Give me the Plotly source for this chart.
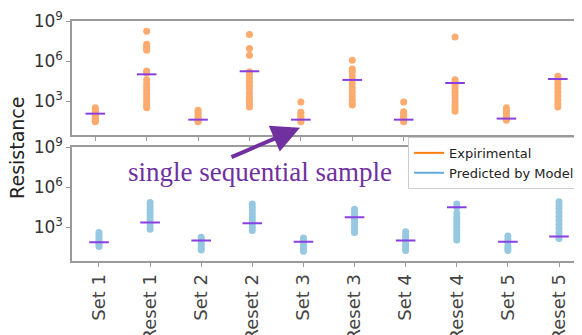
import plotly.graph_objects as go

categories = ["Set 1", "Reset 1", "Set 2", "Reset 2", "Set 3",
              "Reset 3", "Set 4", "Reset 4", "Set 5", "Reset 5"]

# Experimental resistance readings (log10 of ohms), one list per category
exp_log10 = [
    [2.5, 2.35, 2.2, 2.1, 2.0, 1.9, 1.8, 1.7, 1.6, 1.5, 1.45],
    [8.23, 7.25, 7.1, 6.95, 6.8, 5.25, 5.1, 4.6, 4.3, 4.05, 3.8, 3.55, 3.3, 3.05, 2.8, 2.6, 2.5],
    [2.3, 2.15, 2.0, 1.85, 1.7, 1.6, 1.5, 1.45],
    [7.98, 6.93, 6.43, 5.2, 5.0, 4.7, 4.4, 4.15, 3.9, 3.6, 3.3, 3.05, 2.8, 2.55],
    [2.93, 2.15, 2.0, 1.85, 1.7, 1.55, 1.45],
    [6.05, 5.4, 5.2, 4.9, 4.6, 4.3, 4.0, 3.7, 3.4, 3.1, 2.85, 2.7],
    [2.93, 2.2, 2.05, 1.9, 1.75, 1.6, 1.45],
    [7.8, 4.6, 4.4, 4.2, 3.95, 3.7, 3.45, 3.2, 2.95, 2.7, 2.45, 2.23],
    [2.5, 2.3, 2.1, 1.95, 1.8, 1.65, 1.55],
    [4.85, 4.6, 4.3, 4.0, 3.7, 3.4, 3.1, 2.8, 2.55],
]
exp_sample_log10 = [2.05, 5.0, 1.6, 5.23, 1.6, 4.58, 1.6, 4.35, 1.68, 4.65]

# Model-predicted resistance (log10 of ohms)
model_log10 = [
    [2.6, 2.4, 2.2, 2.0, 1.85, 1.7, 1.55],
    [4.85, 4.6, 4.35, 4.1, 3.85, 3.6, 3.35, 3.1, 2.85],
    [2.25, 2.05, 1.85, 1.65, 1.45, 1.3],
    [4.75, 4.5, 4.25, 4.0, 3.75, 3.5, 3.25, 3.0, 2.75],
    [2.2, 2.0, 1.8, 1.6, 1.4, 1.2],
    [4.35, 4.1, 3.85, 3.6, 3.35, 3.1, 2.85, 2.6],
    [2.67, 2.4, 2.15, 1.9, 1.65, 1.45, 1.25],
    [4.75, 4.5, 4.05, 3.75, 3.5, 3.25, 3.0, 2.75, 2.5, 2.25, 2.05],
    [2.35, 2.1, 1.85, 1.6, 1.4, 1.25],
    [4.92, 4.65, 4.4, 4.1, 3.8, 3.5, 3.2, 2.9, 2.6, 2.35, 2.15],
]
model_sample_log10 = [1.87, 3.35, 2.0, 3.3, 1.92, 3.75, 2.0, 4.5, 1.92, 2.3]

ytick_vals = [1e3, 1e6, 1e9]
ytick_text = ["10<sup>3</sup>", "10<sup>6</sup>", "10<sup>9</sup>"]

ORANGE_DOT = "#FDAB6E"
BLUE_DOT = "#96C8E2"
PURPLE = "#8A3FE0"
FONT = "DejaVu Sans"


def flatten(groups):
    xs, ys = [], []
    for cat, vals in zip(categories, groups):
        for v in vals:
            xs.append(cat)
            ys.append(10 ** v)
    return xs, ys


fig = go.Figure()

ex, ey = flatten(exp_log10)
mx, my = flatten(model_log10)

fig.add_trace(go.Scatter(x=ex, y=ey, mode="markers", xaxis="x", yaxis="y",
                         marker=dict(size=7, color=ORANGE_DOT), showlegend=False))
fig.add_trace(go.Scatter(x=categories, y=[10 ** v for v in exp_sample_log10], mode="markers",
                         xaxis="x", yaxis="y", showlegend=False,
                         marker=dict(symbol="line-ew", size=14, color=PURPLE,
                                     line=dict(width=2, color=PURPLE))))
fig.add_trace(go.Scatter(x=mx, y=my, mode="markers", xaxis="x2", yaxis="y2",
                         marker=dict(size=7, color=BLUE_DOT), showlegend=False))
fig.add_trace(go.Scatter(x=categories, y=[10 ** v for v in model_sample_log10], mode="markers",
                         xaxis="x2", yaxis="y2", showlegend=False,
                         marker=dict(symbol="line-ew", size=14, color=PURPLE,
                                     line=dict(width=2, color=PURPLE))))

# legend entries
fig.add_trace(go.Scatter(x=[None], y=[None], mode="lines", name="Expirimental",
                         line=dict(color="#FF7F0E", width=2), xaxis="x", yaxis="y"))
fig.add_trace(go.Scatter(x=[None], y=[None], mode="lines", name="Predicted by Model",
                         line=dict(color="#62AADB", width=2), xaxis="x", yaxis="y"))

axis_line = dict(showline=True, linecolor="#9a9a9a", linewidth=1.5, showgrid=False,
                 zeroline=False, ticks="outside", ticklen=4, tickcolor="#9a9a9a",
                 automargin=False)

# page body adds an 8px offset, so margins are set to compensate
fig.update_layout(
    width=582, height=335,
    margin=dict(l=64, r=8, t=13, b=82),
    paper_bgcolor="white", plot_bgcolor="white",
    font=dict(family=FONT, color="#333333"),
    xaxis=dict(domain=[0, 1], anchor="y", type="category", categoryorder="array",
               categoryarray=categories, range=[-0.453, 9.47], showticklabels=False,
               mirror=True, **axis_line),
    yaxis=dict(domain=[0.525, 1], anchor="x", type="log", range=[0.45, 9],
               tickvals=ytick_vals, ticktext=ytick_text, tickfont=dict(size=17),
               **axis_line),
    xaxis2=dict(domain=[0, 1], anchor="y2", type="category", categoryorder="array",
                categoryarray=categories, range=[-0.528, 9.45], tickangle=-90,
                tickfont=dict(size=18, color="#444444"), mirror=True, **axis_line),
    yaxis2=dict(domain=[0, 0.474], anchor="x2", type="log", range=[0.47, 9],
                tickvals=ytick_vals, ticktext=ytick_text, tickfont=dict(size=17),
                **axis_line),
    legend=dict(x=0.659, y=0.517, xanchor="left", yanchor="top",
                bgcolor="white", bordercolor="#cccccc", borderwidth=1,
                font=dict(size=13, color="#222222", family=FONT)),
    showlegend=True,
)

fig.add_annotation(text="Resistance", textangle=-90, xref="paper", yref="paper",
                   x=-0.108, y=0.471, xanchor="center", yanchor="middle",
                   showarrow=False, font=dict(size=19, color="#222222", family=FONT))

fig.add_annotation(text="single sequential sample", xref="paper", yref="paper",
                   x=(126 - 72) / 510, y=(261 - 172) / 240, xanchor="left", yanchor="middle",
                   showarrow=False, font=dict(size=27, color="#7030A0", family="Liberation Serif"))

fig.add_annotation(text="", xref="paper", yref="paper",
                   x=(300 - 72) / 510, y=(261 - 127.7) / 240,
                   ax=-70, ay=30, axref="pixel", ayref="pixel",
                   showarrow=True, arrowhead=2, arrowsize=1.4, arrowwidth=4,
                   arrowcolor="#7030A0", standoff=0)

fig.write_html("out.html")
